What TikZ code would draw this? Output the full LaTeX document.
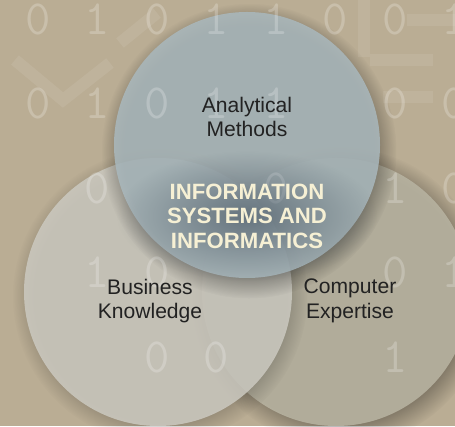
\documentclass[tikz,border=0pt]{standalone}
\usepackage{fontspec}
\setmainfont{Liberation Sans}
\usetikzlibrary{fadings}
\definecolor{bgtan}{RGB}{186,173,148}
\definecolor{analyticblue}{RGB}{170,185,190}
\definecolor{businessgrey}{RGB}{204,202,193}
\definecolor{computertan}{RGB}{185,181,163}
\definecolor{creamtext}{RGB}{246,240,212}
\definecolor{labelgrey}{RGB}{34,34,34}
\definecolor{glowblue}{RGB}{60,75,90}
\tikzfading[name=glowfade, inner color=transparent!0, outer color=transparent!100]
\tikzset{
set/.style={circle, inner sep=0pt, draw=none, fill opacity=0.85}, % one disc of the diagram
setshadow/.style={black, opacity=0.28, path fading=circle with fuzzy edge 15 percent}, % soft shadow under a disc
label/.style={font=\fontsize{12}{14}\selectfont, text=labelgrey, align=center}, % area names
title/.style={font=\bfseries\fontsize{12.6}{14}\selectfont, text=creamtext, align=center}, % the overlap
bit/.style={font=\ttfamily\fontsize{28}{28}\selectfont, text=white, text opacity=0.22}, % background digits
trace/.style={white, opacity=0.08, line width=0.24cm}, % faint circuit lines
}

\begin{document}
\begin{tikzpicture}
      \useasboundingbox (0,0) rectangle (9.1,8.52);
      \fill[bgtan] (0,0) rectangle (9.1,8.52);

      % faint circuit in the background
      \draw[trace] (0.3,7.32) -- (1.26,6.52) -- (2.2,7.26);
      \draw[trace] (2.4,7.66) -- (3.14,8.26);
      \draw[trace] (7.28,8.52) -- (7.28,7.38);
      \draw[trace] (7.4,7.32) -- (8.66,7.32);
      \draw[trace] (8.14,8.12) -- (9.1,8.12);
      \draw[trace] (7.66,6.58) -- (8.66,6.58);

      % the three sets
      \fill[setshadow] (6.8,2.58) circle (3.0);
      \node[set, minimum size=5.36cm, fill=computertan] (computer) at (6.72,2.68) {};
      \fill[setshadow, opacity=0.2] (3.2,2.6) circle (2.95);
      \node[set, minimum size=5.36cm, fill=businessgrey] (business) at (3.16,2.68) {};
      \fill[setshadow, opacity=0.3] (4.98,5.5) circle (2.95);
      \node[set, minimum size=5.32cm, fill=analyticblue] (analytic) at (4.94,5.62) {};

      % binary digits
      \foreach \c/\r/\d [count=\i] in {1/1/0, 2/1/1, 3/1/0, 4/1/1, 5/1/1, 6/1/0, 7/1/0, 8/1/1,
        1/2/0, 2/2/1, 3/2/0, 4/2/1, 5/2/1, 7/2/0, 8/2/0,
        2/3/0, 5/3/0, 7/3/1, 8/3/0,
        2/4/1, 3/4/0, 7/4/0, 8/4/1,
        3/5/0, 4/5/0, 7/5/1}
        \node[bit] (bit\i) at ({\c*1.19-0.43},{9.83-\r*1.69}) {\d};

      % dark glow behind the overlap text
      \fill[glowblue, opacity=0.6, path fading=glowfade] (4.94,4.2) ellipse (2.6 and 1.3);

      \node[label] (methods) at (4.94,6.18) {Analytical\\Methods};
      \node[label] (knowledge) at (3.0,2.5) {Business\\Knowledge};
      \node[label] (expertise) at (7.0,2.5) {Computer\\Expertise};
      \node[title] (informatics) at (4.94,4.2) {INFORMATION\\SYSTEMS AND\\INFORMATICS};
\end{tikzpicture}
\end{document}
